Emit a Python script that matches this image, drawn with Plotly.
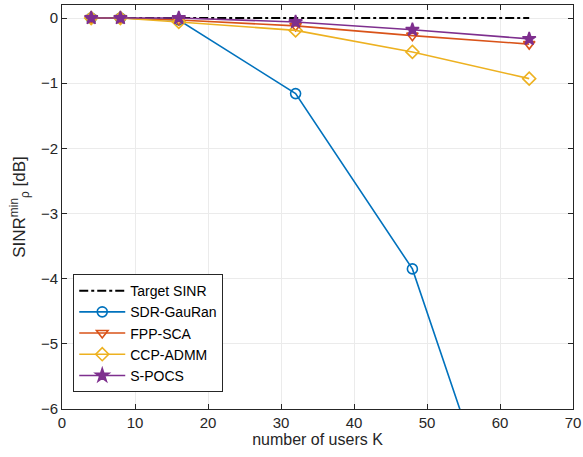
import plotly.graph_objects as go

K = [4, 8, 16, 32, 48, 64]
target = [0, 0, 0, 0, 0, 0]
sdr = [0.0, 0.0, -0.03, -1.16, -3.85, -9.15]
fpp = [0.0, 0.0, -0.03, -0.12, -0.27, -0.40]
ccp = [0.0, 0.0, -0.06, -0.19, -0.52, -0.93]
spocs = [0.0, 0.0, 0.0, -0.06, -0.18, -0.32]

names = ["Target SINR", "SDR-GauRan", "FPP-SCA", "CCP-ADMM", "S-POCS"]
colors = ["#000000", "#0072BD", "#D95319", "#EDB120", "#7E2F8E"]
symbols = [None, "circle-open", "triangle-down-open", "diamond-open", "star"]
series = [target, sdr, fpp, ccp, spocs]

fig = go.Figure()
for name, col, sym, ys in zip(names, colors, symbols, series):
    if sym is None:
        fig.add_trace(go.Scatter(x=K, y=ys, name=name, mode="lines",
                                 line=dict(color=col, width=2, dash="dashdot")))
    else:
        fig.add_trace(go.Scatter(x=K, y=ys, name=name, mode="lines+markers",
                                 line=dict(color=col, width=1.6),
                                 marker=dict(symbol=sym, size=10, color=col,
                                             line=dict(color=col, width=1.6))))

axis_common = dict(showline=True, linecolor="#262626", linewidth=1, mirror="ticks",
                   ticks="inside", ticklen=5, tickcolor="#262626",
                   showgrid=True, gridcolor="#ebebeb", gridwidth=1, zeroline=False,
                   automargin=False,
                   tickfont=dict(size=15, color="#262626"))

fig.update_layout(
    width=583, height=457,
    margin=dict(l=62, r=10, t=5, b=48),
    paper_bgcolor="white", plot_bgcolor="white",
    font=dict(family="Liberation Sans, Arial, sans-serif", color="#262626"),
    xaxis=dict(range=[0, 70], tickvals=[0, 10, 20, 30, 40, 50, 60, 70],
               title=dict(text="number of users K", font=dict(size=16), standoff=2),
               **axis_common),
    yaxis=dict(range=[-6, 0.2], tickvals=[-6, -5, -4, -3, -2, -1, 0],
               title=dict(text="SINR<sup>min</sup><sub>ρ</sub> [dB]", font=dict(size=17), standoff=10),
               **axis_common),
    legend=dict(x=0.022, y=0.042, xanchor="left", yanchor="bottom",
                bgcolor="white", bordercolor="#262626", borderwidth=1,
                font=dict(size=14, color="#000000"), tracegroupgap=0,
                itemwidth=46),
    showlegend=True,
)

fig.write_html("out.html", config={"displayModeBar": False},
               post_script="document.body.style.margin='0px';")
